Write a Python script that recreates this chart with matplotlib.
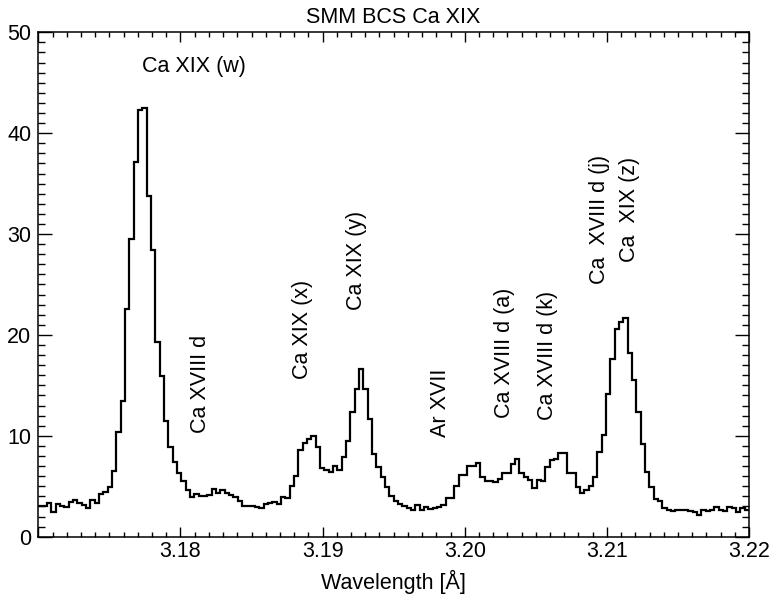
import numpy as np
import matplotlib
matplotlib.use('Agg')
import matplotlib.pyplot as plt
from matplotlib.ticker import MultipleLocator

plt.rcParams['font.family'] = ['Liberation Sans', 'DejaVu Sans']
plt.rcParams['font.size'] = 15.5

# spectrum, counts per bin (164 bins between 3.17 and 3.22 A)
wave_start = 3.17
wave_end = 3.22
counts = [
    3.0, 3.0, 3.3, 2.4, 3.2, 3.0, 2.9, 3.4, 3.6, 3.35,
    3.1, 2.85, 3.6, 3.35, 4.2, 4.4, 4.9, 6.5, 10.4, 13.5,
    22.6, 29.5, 37.1, 42.3, 42.5, 33.8, 28.4, 19.3, 15.9, 11.5,
    8.9, 7.45, 6.3, 5.5, 4.6, 3.95, 4.2, 4.0, 4.0, 4.1,
    4.7, 4.3, 4.6, 4.3, 4.1, 3.9, 3.5, 3.05, 3.0, 3.0,
    2.95, 2.85, 3.2, 3.3, 3.4, 3.25, 3.95, 3.85, 5.0, 6.0,
    8.6, 9.3, 9.7, 10.0, 8.9, 6.8, 6.6, 6.4, 7.0, 6.6,
    7.9, 9.5, 12.4, 14.6, 16.6, 14.6, 11.7, 8.2, 6.9, 5.9,
    4.9, 4.0, 3.5, 3.25, 3.0, 2.8, 2.6, 3.1, 2.6, 2.9,
    2.75, 2.8, 2.9, 3.15, 3.8, 3.8, 5.0, 6.1, 6.1, 7.0,
    7.0, 7.35, 5.9, 5.5, 5.55, 5.4, 5.7, 6.3, 6.35, 7.2,
    7.7, 6.3, 5.9, 5.6, 4.85, 5.6, 5.5, 6.95, 7.6, 7.7,
    8.3, 8.3, 6.3, 6.3, 4.9, 4.3, 4.6, 5.0, 5.9, 8.4,
    10.1, 14.1, 17.6, 20.6, 21.3, 21.7, 18.2, 15.5, 12.4, 9.2,
    6.4, 4.9, 3.7, 3.5, 2.8, 2.6, 2.5, 2.6, 2.6, 2.6,
    2.5, 2.45, 2.2, 2.6, 2.5, 2.6, 2.95, 2.6, 2.5, 2.95,
    2.8, 2.4, 2.8, 2.6,
]

# line identifications: text, wavelength, lower end of the label
line_labels = ['Ca XVIII d', 'Ca XIX (x)', 'Ca XIX (y)', 'Ar XVII',
               'Ca XVIII d (a)', 'Ca XVIII d (k)', 'Ca  XVIII d (j)', 'Ca  XIX (z)']
line_waves = [3.1814, 3.1886, 3.1924, 3.1983, 3.2028, 3.2058, 3.2095, 3.2116]
label_base = [10.3, 15.6, 22.5, 9.9, 11.8, 11.6, 25.0, 27.2]

edges = np.linspace(wave_start, wave_end, len(counts) + 1)

fig = plt.figure(figsize=(7.71, 5.98), dpi=100)
ax = fig.add_axes([0.0497, 0.1025, 0.9218, 0.8435])
ax.stairs(counts, edges, baseline=None, color='black', linewidth=1.6)

ax.set_xlim(wave_start, wave_end)
ax.set_ylim(0, 50)
ax.set_xticks([3.17, 3.18, 3.19, 3.20, 3.21, 3.22])
ax.set_xticklabels(['', '3.18', '3.19', '3.20', '3.21', '3.22'])
ax.xaxis.set_minor_locator(MultipleLocator(0.001))
ax.set_yticks([0, 10, 20, 30, 40, 50])
ax.yaxis.set_minor_locator(MultipleLocator(1))
ax.tick_params(axis='x', which='major', direction='in', length=7, width=1, top=True, pad=3)
ax.tick_params(axis='x', which='minor', direction='in', length=3.3, width=1, top=True)
ax.tick_params(axis='y', which='major', direction='in', length=10, width=1, right=True, pad=5)
ax.tick_params(axis='y', which='minor', direction='in', length=5, width=1, right=True)
for s in ax.spines.values():
    s.set_linewidth(1.1)

ax.set_title('SMM BCS Ca XIX', fontsize=15.5, pad=7)
ax.set_xlabel('Wavelength [Å]', labelpad=6)

ax.text(3.18095, 46.6, 'Ca XIX (w)', ha='center', va='center')
for txt, w, y in zip(line_labels, line_waves, label_base):
    ax.text(w, y, txt, rotation=90, ha='center', va='bottom')

fig.savefig('out.png', dpi=100)
